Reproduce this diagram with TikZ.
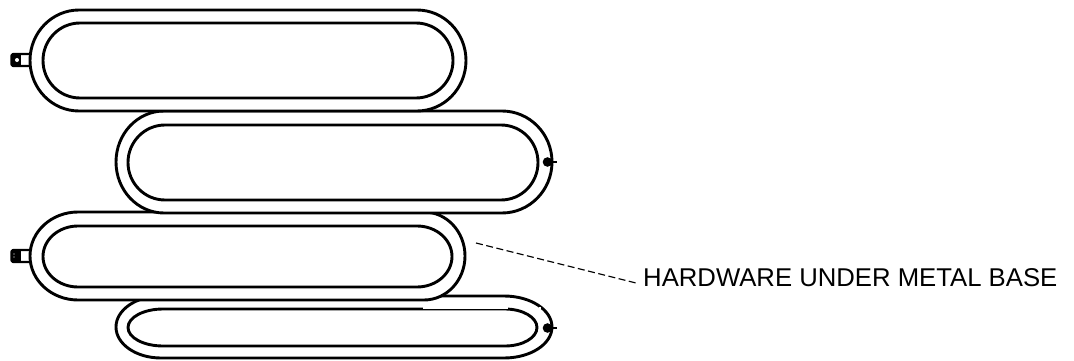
\documentclass[tikz,border=0pt]{standalone}
\usepackage{fontspec}
\setmainfont{Liberation Sans}
\tikzset{
  panelline/.style={draw=black,fill=white,line width=2.9pt,line join=round},
  tabline/.style={draw=black,line width=2.2pt,line join=round},
  leader/.style={draw=black,line width=1.2pt,dash pattern=on 7pt off 3.5pt},
  label/.style={font=\fontsize{25.7pt}{28pt}\selectfont,inner sep=0pt,anchor=west,text=black}
}
% left, right, top, bottom, left x-radius, right x-radius
\newcommand{\rpanel}[6]{%
  \pgfmathsetmacro{\ry}{(#3-#4)/2}%
  \pgfmathsetmacro{\xa}{#1+#5}%
  \pgfmathsetmacro{\xb}{#2-#6}%
  \draw[panelline] (\xa,#3) -- (\xb,#3)
    arc[start angle=90,end angle=-90,x radius=#6,y radius=\ry]
    -- (\xa,#4)
    arc[start angle=270,end angle=90,x radius=#5,y radius=\ry] -- cycle;
}
\newcommand{\lefttab}[1]{%
  \draw[tabline,fill=white] (30,#1+6) -- (13,#1+6) -- (11.5,#1+4.5) -- (11.5,#1-4.5) -- (13,#1-6) -- (30,#1-6);
  \fill[black] (12,#1-5.5) rectangle (21,#1+5.5);
}
\newcommand{\righttab}[1]{%
  \fill[black] (547.5,#1) circle (4.8);
  \draw[line width=2pt] (547.5,#1) -- (556.5,#1);
}
\begin{document}
\begin{tikzpicture}[x=1pt,y=1pt]
\useasboundingbox (0,0) rectangle (1074,360);
\fill[white] (0,0) rectangle (1074,360);
% bottom panel
\rpanel{116}{552}{64}{2}{45}{48}
\rpanel{128}{537}{51}{14}{35}{32}
\fill[white] (423,51.2) rectangle (508,52.6);
\fill[white] (538.5,51.5) rectangle (541,53.5);
\righttab{32}
% third panel
\lefttab{104}
\rpanel{30}{465}{148}{60}{48}{41}
\rpanel{43}{452}{134}{73}{35}{35}
\fill[white] (22,101) rectangle (28,107);
\fill[white] (14,103) circle (0.7) (14,106) circle (0.7);
% second panel
\rpanel{116}{552}{249}{147}{48}{50}
\rpanel{128}{538}{235}{160}{37}{37}
\righttab{198}
% top panel
\lefttab{300}
\fill[white] (22,297) rectangle (28,303);
\fill[white] (17,300) circle (2);
\rpanel{30}{466}{350}{249}{49}{49}
\rpanel{43}{453}{337}{262}{37}{37}
% label and leader
\node[label] (hw) at (643,82) {HARDWARE UNDER METAL BASE};
\coordinate (lstart) at (476,117);
\coordinate (lend) at (636,77);
\draw[leader] (lstart) -- (lend);
\end{tikzpicture}
\end{document}
